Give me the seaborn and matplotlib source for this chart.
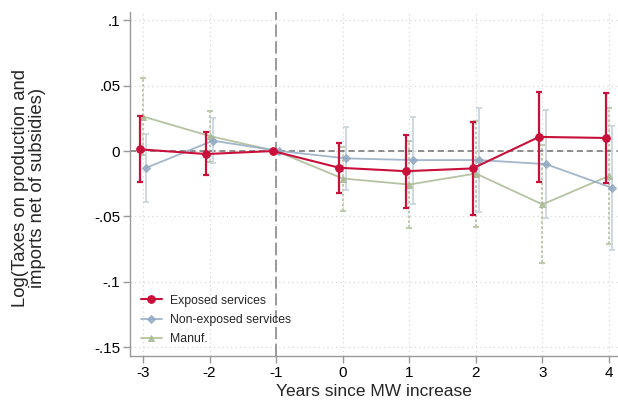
import numpy as np
import pandas as pd
import matplotlib
matplotlib.use("Agg")
import matplotlib.pyplot as plt
import seaborn as sns

years = [-3, -2, -1, 0, 1, 2, 3, 4]
series_names = ["Exposed services", "Non-exposed services", "Manuf."]

exposed_coef = [0.0013, -0.0023, 0.0, -0.0128, -0.0154, -0.0133, 0.0108, 0.0100]
exposed_lo = [-0.0240, -0.0185, 0.0, -0.0320, -0.0436, -0.0490, -0.0236, -0.0244]
exposed_hi = [0.0266, 0.0144, 0.0, 0.0059, 0.0126, 0.0223, 0.0449, 0.0441]

nonexp_coef = [-0.0128, 0.0079, 0.0, -0.0056, -0.0069, -0.0069, -0.0100, -0.0282]
nonexp_lo = [-0.0390, -0.0092, 0.0, -0.0295, -0.0403, -0.0467, -0.0515, -0.0756]
nonexp_hi = [0.0128, 0.0249, 0.0, 0.0182, 0.0260, 0.0328, 0.0315, 0.0192]

manuf_coef = [0.0264, 0.0115, 0.0, -0.0210, -0.0256, -0.0172, -0.0408, -0.0190]
manuf_lo = [-0.0030, -0.0085, 0.0, -0.0459, -0.0592, -0.0582, -0.0859, -0.0710]
manuf_hi = [0.0559, 0.0305, 0.0, 0.0028, 0.0077, 0.0233, 0.0044, 0.0326]

y_ticks = [0.1, 0.05, 0.0, -0.05, -0.1, -0.15]
y_ticklabels = [".1", ".05", "0", "-.05", "-.1", "-.15"]

sns.set_theme(style="white")
plt.rcParams["font.family"] = ["Liberation Sans", "DejaVu Sans"]

fig = plt.figure(figsize=(6.18, 4.0), dpi=100)
ax = fig.add_axes([0.2104, 0.11, 0.7896, 0.86])

offsets = [-0.05, 0.05, 0.0]
colors = ["#C8103A", "#93A9C2", "#A9B992"]
bar_colors = ["#C8103A", "#C9D5E2", "#B9C6A6"]
markers = ["o", "D", "^"]
msizes = [5.5, 4.5, 4.8]
zorders = [6, 4, 3]
coefs = [exposed_coef, nonexp_coef, manuf_coef]
los = [exposed_lo, nonexp_lo, manuf_lo]
his = [exposed_hi, nonexp_hi, manuf_hi]
bar_styles = ["-", "-", (0, (1.5, 1.2))]
line_alpha = [1.0, 0.85, 0.85]

# confidence intervals
for i in range(3):
    x = np.array(years, dtype=float) + offsets[i]
    lo = np.array(los[i]); hi = np.array(his[i])
    mask = np.array(years) != -1
    lw = 1.6 if i == 0 else 1.3
    ax.vlines(x[mask], lo[mask], hi[mask], color=bar_colors[i], lw=lw,
              linestyles=bar_styles[i], zorder=zorders[i] - 1)
    ax.hlines(lo[mask], x[mask] - 0.045, x[mask] + 0.045, color=bar_colors[i], lw=lw, zorder=zorders[i] - 1)
    ax.hlines(hi[mask], x[mask] - 0.045, x[mask] + 0.045, color=bar_colors[i], lw=lw, zorder=zorders[i] - 1)

rows = []
for i, name in enumerate(series_names):
    for yr, c in zip(years, coefs[i]):
        rows.append({"x": yr + offsets[i], "coef": c, "series": name})
df = pd.DataFrame(rows)

for i, name in enumerate(series_names):
    sub = df[df["series"] == name]
    sns.lineplot(data=sub, x="x", y="coef", ax=ax, color=colors[i], marker=markers[i],
                 markersize=msizes[i], markeredgecolor=colors[i], lw=1.5 if i == 0 else 1.3,
                 alpha=line_alpha[i], label=name, zorder=zorders[i], estimator=None, sort=False)

ax.axhline(0, color="#707070", lw=1.1, ls=(0, (4, 2.5)), zorder=2)
ax.axvline(-1, color="#808080", lw=1.1, ls=(0, (8, 3)), zorder=2)

ax.set_xlim(-3.195, 4.135)
ax.set_ylim(-0.1567, 0.1063)
ax.set_xticks(years)
ax.set_xticklabels([str(y) for y in years], fontsize=11)
ax.set_yticks(y_ticks)
ax.set_yticklabels(y_ticklabels, fontsize=11)

ax.grid(True, color="#D8D8D8", lw=0.9, ls=(0, (1, 2.5)))
for s in ["top", "right"]:
    ax.spines[s].set_visible(False)
for s in ["left", "bottom"]:
    ax.spines[s].set_color("#999999")
    ax.spines[s].set_linewidth(1.0)
ax.tick_params(axis="both", direction="out", length=5, width=1, color="#999999",
               bottom=True, left=True, pad=2, labelcolor="black")

ax.set_xlabel("Years since MW increase", fontsize=12.5, labelpad=3)
ax.set_ylabel("")
fig.text(29 / 618, 1 - 188 / 400, "Log(Taxes on production and\nimports net of subsidies)",
         rotation=90, ha="center", va="center", fontsize=13.3, linespacing=1.0,
         multialignment="center")

leg = ax.legend(loc="upper left", bbox_to_anchor=(0.022, 0.178), frameon=False, fontsize=8.8,
                handlelength=1.7, handletextpad=0.7, labelspacing=0.6, borderaxespad=0.0,
                borderpad=0.0)

fig.savefig("out.png", dpi=100)
